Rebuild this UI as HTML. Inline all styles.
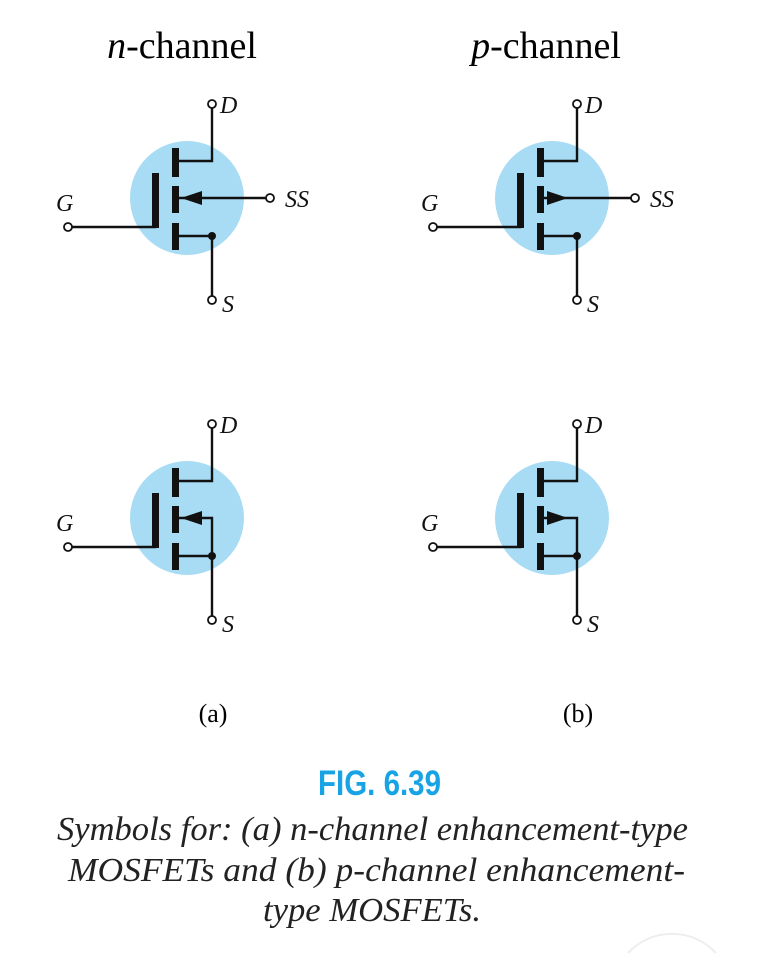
<!DOCTYPE html>
<html><head><meta charset="utf-8"><style>
html,body{margin:0;padding:0;background:#fff;width:760px;height:954px;overflow:hidden;}
svg{display:block;}
</style></head><body>
<svg width="760" height="954" viewBox="0 0 760 954" id="fig" style="overflow:hidden">
<text x="182" y="58" font-family="Liberation Serif, serif" font-size="38" text-anchor="middle"><tspan font-style="italic">n</tspan>-channel</text>
<text x="546" y="58" font-family="Liberation Serif, serif" font-size="38" text-anchor="middle"><tspan font-style="italic">p</tspan>-channel</text>
<text x="213" y="722" font-family="Liberation Serif, serif" font-size="26" text-anchor="middle">(a)</text>
<text x="578" y="722" font-family="Liberation Serif, serif" font-size="26" text-anchor="middle">(b)</text>
<text x="318" y="795" font-family="Liberation Sans, sans-serif" font-weight="bold" font-size="35" fill="#18a4e4" textLength="123" lengthAdjust="spacingAndGlyphs">FIG. 6.39</text>
<g font-family="Liberation Serif, serif" font-style="italic" font-size="34" fill="#222">
<text x="57" y="840" textLength="631" lengthAdjust="spacingAndGlyphs">Symbols for: (a) n-channel enhancement-type</text>
<text x="68" y="881" textLength="617" lengthAdjust="spacingAndGlyphs">MOSFETs and (b) p-channel enhancement-</text>
<text x="263" y="921" textLength="218" lengthAdjust="spacingAndGlyphs">type MOSFETs.</text>
</g>
<path d="M 628 953 A 60 60 0 0 1 716 953" fill="none" stroke="#eee" stroke-width="2"/>
</svg>
<script>
const NS='http://www.w3.org/2000/svg';
const svg=document.getElementById('fig');
function el(tag,attrs,parent){const e=document.createElementNS(NS,tag);for(const k in attrs)e.setAttribute(k,attrs[k]);(parent||svg).appendChild(e);return e;}
const symbols=[{dx:0,dy:0,p:false,ss:true},{dx:365,dy:0,p:true,ss:true},{dx:0,dy:320,p:false,ss:false},{dx:365,dy:320,p:true,ss:false}];
symbols.forEach((s,i)=>{
  const g=el('g',{transform:`translate(${s.dx},${s.dy})`});
  
  
  const c=el('circle',{cx:187,cy:198,r:57,fill:'#a8dcf4'},g);
  
  
  const st={stroke:'#111','stroke-width':2.4,fill:'none'};
  el('rect',{x:152,y:173,width:7,height:55,fill:'#111'},g);
  el('line',Object.assign({x1:72,y1:227,x2:156,y2:227},st),g);
  el('circle',{cx:68,cy:227,r:4,fill:'#fff',stroke:'#111','stroke-width':1.8},g);
  el('rect',{x:172,y:148,width:7,height:29,fill:'#111'},g);
  el('rect',{x:172,y:186,width:7,height:27,fill:'#111'},g);
  el('rect',{x:172,y:223,width:7,height:27,fill:'#111'},g);
  el('polyline',Object.assign({points:'178,161 212,161 212,108'},st),g);
  el('circle',{cx:212,cy:104,r:4,fill:'#fff',stroke:'#111','stroke-width':1.8},g);
  el('polyline',Object.assign({points:'178,236 212,236 212,296'},st),g);
  el('circle',{cx:212,cy:236,r:4,fill:'#111'},g);
  el('circle',{cx:212,cy:300,r:4,fill:'#fff',stroke:'#111','stroke-width':1.8},g);
  if(s.ss){
    el('line',Object.assign({x1:178,y1:198,x2:266,y2:198},st),g);
    el('circle',{cx:270,cy:198,r:4,fill:'#fff',stroke:'#111','stroke-width':1.8},g);
  } else {
    el('polyline',Object.assign({points:'178,198 212,198 212,236'},st),g);
  }
  const pts=s.p?'182,191 182,205 203,198':'181,198 202,191 202,205';
  el('polygon',{points:pts,fill:'#111'},g);
  const f={'font-family':'Liberation Serif, serif','font-style':'italic','font-size':24,fill:'#111'};
  const tD=el('text',Object.assign({x:220,y:113},f),g);tD.textContent='D';
  
  
  const tS=el('text',Object.assign({x:222,y:312},f),g);tS.textContent='S';
  
  
  const tG=el('text',Object.assign({x:56,y:211},f),g);tG.textContent='G';
  
  
  if(s.ss){const t=el('text',Object.assign({x:285,y:207},f),g);t.textContent='SS';
    
    }
});
</script>
</body></html>
